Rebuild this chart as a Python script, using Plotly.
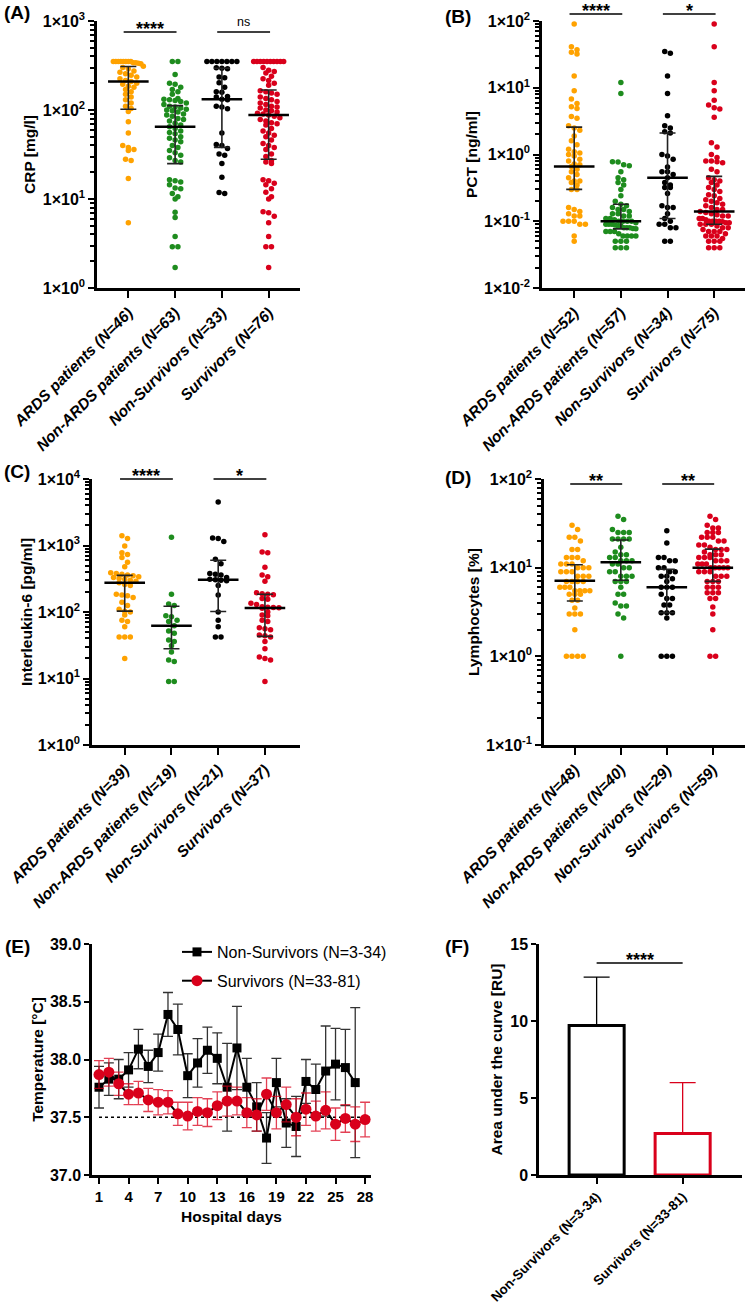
import numpy as np
import plotly.graph_objects as go

W, H = 747, 1305
FONT = "Liberation Sans, Arial, sans-serif"

# ---------------- categories / colours ----------------
groups = ["ARDS patients", "Non-ARDS patients", "Non-Survivors", "Survivors"]
colors = ["#FFA200", "#1E8C1E", "#000000", "#D9001B"]

# ---------------- Panel A : CRP [mg/l] ----------------
crp_n = [46, 63, 33, 76]
crp_ards = [350, 350, 350, 350, 350, 350, 350, 350, 340, 340, 335, 330,
            310, 300, 290, 275, 265, 255, 245, 235, 225, 215, 209, 200, 195, 185, 180,
            170, 160, 150, 140, 130, 120, 110, 104,
            96, 74, 55, 40, 38, 36, 35, 28, 27, 17, 5.4]
crp_nonards = [350, 350, 250, 200, 195, 180, 170, 160, 150, 135, 132, 130, 128, 125, 120, 115,
               110, 108, 105, 102, 100, 98, 95, 90, 88, 85, 80, 78, 75, 71, 68, 65,
               62, 58, 56, 54, 50, 48, 46, 44, 40, 38, 35, 33, 31, 29, 27, 26,
               16.5, 16, 15.5, 14.5, 13.3, 13, 11.5, 10.6, 10, 7.1, 6.2, 3.8, 2.9, 2.9, 1.7]
crp_nonsurv = [350, 350, 350, 350, 350, 350, 350, 298, 295, 290, 235, 230, 203, 180, 160, 158,
               142, 140, 132, 130, 110, 108, 103, 55, 41, 40, 37, 32, 31, 25, 17.5, 11.8, 11.5]
crp_surv = [350, 350, 350, 350, 350, 350, 350, 350, 350, 350, 300, 280, 270, 260, 240, 225, 215, 200, 190,
            165, 160, 155, 150, 140, 135, 130, 125, 120, 115, 110, 108, 105, 100, 98, 95, 92, 90,
            88, 85, 82, 78, 75, 72, 70, 68, 62, 58, 55, 52, 50, 46, 42, 40, 38, 36, 32, 30,
            27, 26, 25, 16.5, 16, 15, 14.5, 13, 11.9, 10.6, 10, 7.2, 7, 6.4, 5.4, 3.8, 2.9, 2.9, 1.7]
crp_median = [209, 65, 132, 88]
crp_q1 = [102, 25, 38, 28]
crp_q3 = [308, 112, 294, 168]

# ---------------- Panel B : PCT [ng/ml] ----------------
pct_n = [52, 57, 34, 75]
pct_ards = [90, 41, 37, 34, 32, 15, 9, 6.8, 5.8, 5.2, 4.9, 3.7, 3.5, 2.7, 2.5, 2.3, 1.9, 1.6, 1.4, 1.2,
            1.1, 1.05, 1.0, 0.95, 0.85, 0.8, 0.72, 0.7, 0.66, 0.6, 0.55, 0.5, 0.45, 0.4, 0.4, 0.38,
            0.35, 0.3, 0.3, 0.16, 0.15, 0.14, 0.13, 0.12, 0.12, 0.1, 0.1, 0.1, 0.09, 0.09, 0.06, 0.05]
pct_nonards = [12, 8.2, 0.78, 0.77, 0.7, 0.68, 0.55, 0.45, 0.42, 0.38, 0.35, 0.3, 0.24, 0.2,
               0.18, 0.17, 0.16, 0.15, 0.15, 0.14, 0.13, 0.13, 0.12, 0.12, 0.11, 0.11, 0.105, 0.1,
               0.1, 0.1, 0.1, 0.095, 0.09, 0.09, 0.09, 0.088, 0.085, 0.085, 0.08, 0.08, 0.08, 0.078, 0.077,
               0.07, 0.07, 0.07, 0.065, 0.06, 0.06, 0.06, 0.06, 0.05, 0.05, 0.05, 0.04, 0.04, 0.04]
pct_nonsurv = [35, 33, 15, 8.2, 3.8, 2.7, 2.5, 2.2, 2.1, 1.0, 0.95, 0.85, 0.65, 0.55, 0.55, 0.5, 0.45,
               0.38, 0.35, 0.32, 0.32, 0.26, 0.17, 0.16, 0.16, 0.13, 0.11, 0.1, 0.09, 0.09, 0.08, 0.08,
               0.05, 0.05]
pct_surv = [90, 41, 12, 9, 6.5, 5.5, 5, 4.8, 3.6, 1.5, 1.3, 1.0, 0.9, 0.8, 0.8, 0.78, 0.75, 0.6, 0.55,
            0.45, 0.42, 0.4, 0.38, 0.35, 0.32, 0.3, 0.28, 0.25, 0.24, 0.22, 0.21, 0.2, 0.19, 0.18, 0.17,
            0.16, 0.15, 0.15, 0.14,
            0.135, 0.13, 0.125, 0.12, 0.12, 0.11, 0.11, 0.105, 0.1, 0.1, 0.1, 0.1, 0.098, 0.095, 0.095,
            0.09, 0.09, 0.09,
            0.085, 0.08, 0.08, 0.075, 0.07, 0.07, 0.07, 0.065, 0.06, 0.06, 0.06, 0.055, 0.05, 0.05, 0.05,
            0.04, 0.04, 0.04]
pct_median = [0.66, 0.10, 0.45, 0.14]
pct_q1 = [0.30, 0.077, 0.11, 0.09]
pct_q3 = [2.57, 0.18, 2.1, 0.47]

# ---------------- Panel C : Interleukin-6 [pg/ml] ----------------
il6_n = [39, 19, 21, 37]
il6_ards = [1400, 1270, 980, 780, 730, 660, 560, 480, 390, 380, 370, 360, 350, 340, 330, 320, 310, 300, 290,
            275, 260, 250, 185, 180, 175, 165, 140, 125, 110,
            103, 100, 90, 75, 72, 60, 42, 42, 42, 20]
il6_nonards = [1330, 185, 132, 125, 88, 85, 75, 72, 62, 52, 48, 38, 36, 31, 25, 19, 18, 9, 9]
il6_nonsurv = [4500, 1300, 1270, 1150, 620, 530, 380, 370, 360, 330, 310, 305, 300, 295, 250, 180,
               100, 75, 60, 42, 42]
il6_surv = [1450, 800, 780, 470, 360, 340, 290, 195, 188, 185, 182, 160, 155, 135, 130, 120, 118, 117, 116,
            114, 100, 90, 88, 75, 72, 58, 56, 54, 45, 44, 42, 36, 28, 21, 20, 19, 9]
il6_median = [275, 62, 305, 115]
il6_q1 = [103, 28, 102, 43]
il6_q3 = [355, 122, 600, 185]

# ---------------- Panel D : Lymphocytes [%] ----------------
lym_n = [48, 40, 29, 59]
lym_ards = [30, 27, 22, 22, 20, 16, 16, 13, 13, 13, 12, 11, 11, 11, 10, 10, 10, 9, 9, 9, 8, 8, 8,
            7, 7, 7, 7, 6, 6, 6, 5.5, 5.5, 5.5, 5.5, 5, 5, 5, 4.3, 4.3, 3.5, 3, 3, 3, 2, 1, 1, 1, 1]
lym_nonards = [38, 35, 27, 25, 25, 25, 21, 21, 21, 21, 17, 15, 14, 14, 13, 13, 12, 12, 12, 11, 11,
               10, 10, 9, 9, 8, 8, 8, 7, 7, 7, 6, 5, 5, 4, 3.7, 3.7, 3, 2.7, 1]
lym_nonsurv = [26, 19, 13, 13, 12, 12, 10, 10, 9, 9, 8, 8, 7.5, 7, 6, 6, 6, 5, 4.5, 4.5, 3.8, 3.8,
               3.1, 3.1, 3.1, 2.7, 1, 1, 1]
lym_surv = [38, 35, 30, 28, 28, 25, 25, 25, 22, 22, 22, 20, 20, 18, 18, 17, 16, 16, 16, 15, 14, 14, 14,
            13, 13, 13, 12, 12, 12, 11, 11, 11, 10, 10, 10, 10, 10, 9, 9, 9, 8, 8, 8, 7, 7, 7,
            6, 6, 6, 5.2, 5.2, 5.2, 4.5, 4.5, 3.6, 3, 2, 1, 1]
lym_median = [7.1, 11.5, 6.0, 10.0]
lym_q1 = [4.2, 7.2, 3.1, 7.0]
lym_q3 = [10.8, 20.5, 9.6, 16.2]

# ---------------- Panel E : temperature course ----------------
days = list(range(1, 29))
temp_day_ticks = [1, 4, 7, 10, 13, 16, 19, 22, 25, 28]
nonsurv_temp = [37.76, 37.83, 37.83, 37.91, 38.09, 37.94, 38.06, 38.39, 38.26, 37.86, 37.97, 38.08, 38.01,
                37.76, 38.10, 37.76, 37.59, 37.32, 37.80, 37.45, 37.42, 37.81, 37.74, 37.90, 37.96, 37.93,
                37.80]
nonsurv_sem = [0.18, 0.14, 0.17, 0.15, 0.17, 0.14, 0.16, 0.19, 0.22, 0.19, 0.21, 0.20, 0.22, 0.38, 0.36,
               0.25, 0.21, 0.22, 0.21, 0.21, 0.26, 0.19, 0.22, 0.39, 0.31, 0.33, 0.65]
surv_temp = [37.87, 37.89, 37.79, 37.70, 37.71, 37.65, 37.63, 37.63, 37.53, 37.51, 37.55, 37.54, 37.60,
             37.64, 37.64, 37.54, 37.52, 37.70, 37.54, 37.61, 37.50, 37.57, 37.51, 37.56, 37.44, 37.49,
             37.44, 37.48]
surv_sem = [0.12, 0.12, 0.10, 0.09, 0.10, 0.10, 0.11, 0.10, 0.10, 0.12, 0.12, 0.12, 0.12, 0.13, 0.12,
            0.13, 0.14, 0.14, 0.14, 0.15, 0.16, 0.14, 0.13, 0.16, 0.14, 0.12, 0.15, 0.15]
temp_ref = 37.5
e_names = ["Non-Survivors (N=3-34)", "Survivors (N=33-81)"]

# ---------------- Panel F : AUC ----------------
auc_groups = ["Non-Survivors (N=3-34)", "Survivors (N=33-81)"]
auc_mean = [9.7, 2.7]
auc_sd = [3.15, 3.3]

# =====================================================================
fig = go.Figure()


def dom_x(x0, x1):
    return [x0 / W, x1 / W]


def dom_y(top, bottom):
    return [1 - bottom / H, 1 - top / H]


def swarm_offsets(vals, px_dec, px_cat, d=5.6, maxw=30.0):
    v = np.asarray(vals, float)
    order = np.argsort(-v, kind="stable")
    y = np.log10(v[order]) * px_dec
    offs = np.zeros(len(v))
    rows, cur = [], [0]
    for i in range(1, len(v)):
        if y[cur[0]] - y[i] < d * 0.85:
            cur.append(i)
        else:
            rows.append(cur)
            cur = [i]
    rows.append(cur)
    for r in rows:
        n = len(r)
        s = d if n == 1 else min(d, maxw / (n - 1))
        for k, idx in enumerate(r):
            offs[order[idx]] = (k - (n - 1) / 2) * s
    return offs / px_cat


AX = dict(showline=True, linewidth=2.5, linecolor="black", ticks="outside", tickcolor="black",
          tickwidth=2, showgrid=False, zeroline=False, automargin=False)
TITLE_FONT = dict(family=FONT, size=15.5, color="black", weight="bold")
TICK_FONT = dict(family=FONT, size=16, color="black", weight="bold")
XTICK_FONT = dict(family=FONT, size=15, color="black", weight="bold")
STAR_FONT = dict(family=FONT, size=18, color="black", weight="bold")

panels = [
    dict(i=1, xd=(97, 300), yd=(21, 288), yr=(0, 3), xr=(-0.67, 3.67),
         data=[crp_ards, crp_nonards, crp_nonsurv, crp_surv], med=crp_median, q1=crp_q1, q3=crp_q3,
         n=crp_n, title="CRP [mg/l]", sig_y=32, sig=["****", "ns"], label="(A)", lab_xy=(17, 13), stand=4),
    dict(i=2, xd=(542, 745), yd=(21, 288), yr=(-2, 2), xr=(-0.69, 3.66),
         data=[pct_ards, pct_nonards, pct_nonsurv, pct_surv], med=pct_median, q1=pct_q1, q3=pct_q3,
         n=pct_n, title="PCT [ng/ml]", sig_y=14, sig=["****", "*"], label="(B)", lab_xy=(458, 16), stand=3),
    dict(i=3, xd=(92, 300), yd=(479, 745), yr=(0, 4), xr=(-0.7, 3.75),
         data=[il6_ards, il6_nonards, il6_nonsurv, il6_surv], med=il6_median, q1=il6_q1, q3=il6_q3,
         n=il6_n, title="Interleukin-6 [pg/ml]", sig_y=479, sig=["****", "*"], label="(C)", lab_xy=(17, 471),
         stand=2),
    dict(i=4, xd=(544, 745), yd=(479, 745), yr=(-1, 2), xr=(-0.67, 3.7),
         data=[lym_ards, lym_nonards, lym_nonsurv, lym_surv], med=lym_median, q1=lym_q1, q3=lym_q3,
         n=lym_n, title="Lymphocytes [%]", sig_y=484, sig=["**", "**"], label="(D)", lab_xy=(458, 477),
         stand=3),
]

shapes, annotations = [], []
layout_axes = {}

for p in panels:
    i = p["i"]
    sfx = "" if i == 1 else str(i)
    xa, ya = f"x{sfx}", f"y{sfx}"
    xd0, xd1 = p["xd"]
    yt, yb = p["yd"]
    lo, hi = p["yr"]
    px_dec = (yb - yt) / (hi - lo)
    px_cat = (xd1 - xd0) / (p["xr"][1] - p["xr"][0])
    for g, vals in enumerate(p["data"]):
        offs = swarm_offsets(vals, px_dec, px_cat)
        fig.add_trace(go.Scatter(
            x=g + offs, y=vals, mode="markers", xaxis=xa, yaxis=ya, showlegend=False,
            marker=dict(size=5.5, color=colors[g], line=dict(width=0)), hoverinfo="skip"))
    med = np.array(p["med"], float)
    fig.add_trace(go.Scatter(
        x=list(range(4)), y=med, mode="markers", xaxis=xa, yaxis=ya, showlegend=False,
        marker=dict(symbol="line-ew", size=29, color="black", line=dict(width=2.5, color="black")),
        error_y=dict(type="data", symmetric=False, array=np.array(p["q3"]) - med,
                     arrayminus=med - np.array(p["q1"]), color="#222222", thickness=1.6, width=8),
        hoverinfo="skip"))
    tv = [10.0 ** e for e in range(lo, hi + 1)]
    tt = [f"1×10<sup>{e}</sup>" for e in range(lo, hi + 1)]
    minor_vals = [k * 10.0 ** e for e in range(lo, hi) for k in range(2, 10)]
    layout_axes[f"xaxis{sfx}"] = dict(
        AX, domain=dom_x(xd0, xd1), anchor=ya, range=list(p["xr"]), tickmode="array",
        tickvals=list(range(4)), ticktext=[f"{g} (N={n})" for g, n in zip(groups, p["n"])],
        ticklen=7, tickangle=-45,
        tickfont=dict(family=FONT, size=15.5, color="black", weight="bold", style="italic"))
    layout_axes[f"yaxis{sfx}"] = dict(
        AX, type="log", domain=dom_y(yt, yb), anchor=xa, range=[lo, hi], tickmode="array",
        tickvals=tv, ticktext=tt, ticklen=6, tickfont=TICK_FONT,
        minor=dict(tickmode="array", tickvals=minor_vals, ticks="outside", ticklen=4, tickwidth=1.5,
                   tickcolor="black", showgrid=False),
        title=dict(text=p["title"], font=TITLE_FONT, standoff=p["stand"]))
    fy = (yb - p["sig_y"]) / (yb - yt)
    for (a, b), txt in zip([(-0.1, 1.03), (1.9, 3.03)], p["sig"]):
        shapes.append(dict(type="line", xref=xa, yref=f"{ya} domain", x0=a, x1=b, y0=fy, y1=fy,
                           line=dict(color="black", width=1.5)))
        if txt == "ns":
            annotations.append(dict(xref=xa, yref=f"{ya} domain", x=(a + b) / 2, y=fy, text="ns",
                                    showarrow=False, yanchor="middle", yshift=10,
                                    font=dict(family=FONT, size=12.5, color="black")))
        else:
            annotations.append(dict(xref=xa, yref=f"{ya} domain", x=(a + b) / 2, y=fy, text=txt,
                                    showarrow=False, yanchor="middle", yshift=3, font=STAR_FONT))
    annotations.append(dict(xref="paper", yref="paper", x=p["lab_xy"][0] / W, y=1 - p["lab_xy"][1] / H,
                            text=p["label"], showarrow=False, xanchor="center", yanchor="middle",
                            font=dict(family=FONT, size=19, color="black", weight="bold")))

# ---------------- Panel E ----------------
fig.add_trace(go.Scatter(
    x=days[:len(nonsurv_temp)], y=nonsurv_temp, mode="lines+markers", name=e_names[0],
    legendgroup="ns", xaxis="x5", yaxis="y5", line=dict(color="black", width=2),
    marker=dict(symbol="square", size=9, color="black"),
    error_y=dict(type="data", array=nonsurv_sem, color="#333333", thickness=1.3, width=5)))
fig.add_trace(go.Scatter(
    x=days[:len(surv_temp)], y=surv_temp, mode="lines+markers", name=e_names[1],
    legendgroup="s", xaxis="x5", yaxis="y5", line=dict(color="black", width=2),
    marker=dict(symbol="circle", size=11, color="#D9001B"),
    error_y=dict(type="data", array=surv_sem, color="rgba(217,0,27,0.75)", thickness=1.3, width=5)))
shapes.append(dict(type="line", xref="x5", yref="y5", x0=days[0], x1=days[-1] + 0.5, y0=temp_ref,
                   y1=temp_ref, line=dict(color="black", width=1.5, dash="dot"), layer="below"))
layout_axes["xaxis5"] = dict(AX, domain=dom_x(92, 371), anchor="y5", range=[0.29, 28.6], tickmode="array",
                             tickvals=temp_day_ticks, ticklen=6, tickfont=XTICK_FONT,
                             title=dict(text="Hospital days", font=TITLE_FONT, standoff=8))
layout_axes["yaxis5"] = dict(AX, domain=dom_y(944, 1175), anchor="x5", range=[37, 39], tickmode="array",
                             tickvals=[37.0, 37.5, 38.0, 38.5, 39.0], tickformat=".1f", ticklen=5,
                             tickfont=TICK_FONT,
                             title=dict(text="Temperature [°C]", font=TITLE_FONT, standoff=3))
annotations.append(dict(xref="paper", yref="paper", x=17 / W, y=1 - 946 / H, text="(E)", showarrow=False,
                        xanchor="center", yanchor="middle",
                        font=dict(family=FONT, size=19, color="black", weight="bold")))

# ---------------- Panel F ----------------
f_colors = ["black", "#D9001B"]
for k in range(2):
    fig.add_trace(go.Bar(
        x=[k], y=[auc_mean[k]], width=0.64, xaxis="x6", yaxis="y6", showlegend=False,
        marker=dict(color="white", line=dict(color=f_colors[k], width=3)),
        error_y=dict(type="data", symmetric=False, array=[auc_sd[k]], arrayminus=[0],
                     color=f_colors[k], thickness=1.3, width=13), hoverinfo="skip"))
layout_axes["xaxis6"] = dict(AX, domain=dom_x(539, 742), anchor="y6", range=[-0.67, 1.69], tickmode="array",
                             tickvals=[0, 1], ticktext=auc_groups, ticklen=6, tickangle=-45,
                             tickfont=dict(family=FONT, size=13.3, color="black", weight="bold"))
layout_axes["yaxis6"] = dict(AX, domain=dom_y(944, 1175), anchor="x6", range=[0, 15], tickmode="array",
                             tickvals=[0, 5, 10, 15], ticklen=5, tickfont=TICK_FONT,
                             title=dict(text="Area under the curve [RU]", font=TITLE_FONT, standoff=4))
fy = (1175 - 963) / (1175 - 944)
shapes.append(dict(type="line", xref="x6", yref="y6 domain", x0=0.0, x1=1.0, y0=fy, y1=fy,
                   line=dict(color="black", width=1.5)))
annotations.append(dict(xref="x6", yref="y6 domain", x=0.5, y=fy, text="****", showarrow=False,
                        yanchor="middle", yshift=3, font=STAR_FONT))
annotations.append(dict(xref="paper", yref="paper", x=457 / W, y=1 - 946 / H, text="(F)", showarrow=False,
                        xanchor="center", yanchor="middle",
                        font=dict(family=FONT, size=19, color="black", weight="bold")))

fig.update_layout(
    width=W, height=H, margin=dict(l=0, r=0, t=0, b=0, autoexpand=False),
    paper_bgcolor="white", plot_bgcolor="white", barmode="overlay",
    font=dict(family=FONT, color="black"),
    legend=dict(x=177 / W, y=1 - 935 / H, xanchor="left", yanchor="top", bgcolor="rgba(0,0,0,0)",
                font=dict(family=FONT, size=16, color="black"), itemwidth=30, tracegroupgap=5),
    shapes=shapes, annotations=annotations, **layout_axes)

fig.write_html("out.html", config={"displayModeBar": False},
               post_script="document.body.style.margin='0';")
